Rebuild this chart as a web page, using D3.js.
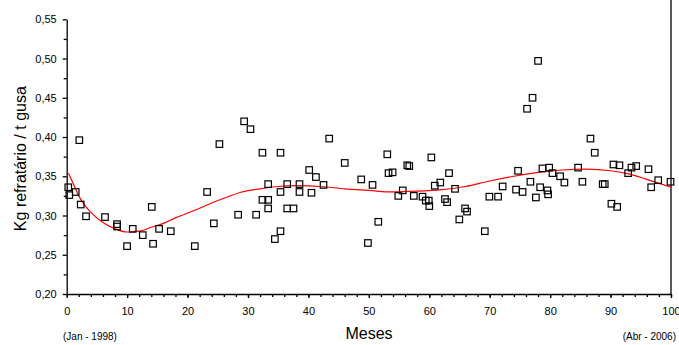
<!DOCTYPE html>
<html>
<head>
<meta charset="utf-8">
<script src="https://cdn.jsdelivr.net/npm/d3@7"></script>
<style>
  html, body { margin: 0; padding: 0; background: #fff; }
  svg { display: block; font-family: "Liberation Sans", Arial, sans-serif; }
</style>
</head>
<body>
<svg id="chart" width="679" height="345"></svg>
<script>
// Monthly refractory consumption (Jan 1998 = month 0)
const months = [
  0.26, 0.43, 1.49, 2.09, 2.32, 3.20, 6.34, 8.33, 8.33, 9.99,
  10.93, 12.59, 14.08, 14.29, 15.29, 17.22, 21.2, 23.24, 24.35, 25.27,
  28.37, 29.36, 30.41, 31.35, 32.39, 32.39, 33.34, 33.34, 33.34, 34.45,
  35.38, 35.38, 35.38, 36.49, 36.49, 37.53, 38.52, 38.52, 40.13, 40.51,
  41.24, 42.50, 43.44, 46.01, 48.74, 49.85, 50.61, 51.56, 53.05, 53.26,
  53.93, 54.87, 55.61, 56.36, 56.69, 57.44, 58.88, 59.42, 59.92, 60.0,
  60.34, 60.91, 61.82, 62.60, 62.95, 63.27, 64.26, 64.97, 65.92, 66.25,
  69.19, 69.94, 71.38, 72.14, 74.36, 74.69, 75.44, 76.18, 77.09, 78.0,
  76.73, 77.64, 78.35, 78.72, 79.55, 79.66, 79.84, 80.38, 81.65, 82.36,
  84.63, 85.34, 86.67, 87.38, 88.70, 89.04, 90.14, 91.09, 90.48, 91.47,
  92.91, 93.46, 94.24, 96.27, 96.72, 97.88, 99.92
];
const kgPerTon = [
  0.336, 0.326, 0.330, 0.396, 0.314, 0.299, 0.298, 0.289, 0.286, 0.261,
  0.283, 0.275, 0.311, 0.264, 0.283, 0.280, 0.261, 0.330, 0.290, 0.391,
  0.301, 0.420, 0.410, 0.301, 0.380, 0.320, 0.340, 0.320, 0.309, 0.270,
  0.280, 0.330, 0.380, 0.340, 0.309, 0.309, 0.340, 0.330, 0.358, 0.329,
  0.349, 0.339, 0.398, 0.367, 0.346, 0.265, 0.339, 0.292, 0.378, 0.354,
  0.355, 0.325, 0.332, 0.364, 0.363, 0.325, 0.324, 0.319, 0.319, 0.312,
  0.374, 0.338, 0.342, 0.321, 0.317, 0.354, 0.334, 0.295, 0.309, 0.305,
  0.280, 0.324, 0.324, 0.337, 0.333, 0.357, 0.330, 0.436, 0.450, 0.497,
  0.343, 0.323, 0.336, 0.360, 0.332, 0.327, 0.361, 0.354, 0.350, 0.342,
  0.361, 0.343, 0.398, 0.380, 0.340, 0.340, 0.315, 0.311, 0.365, 0.364,
  0.354, 0.361, 0.363, 0.359, 0.336, 0.345, 0.343
];

// Fitted trend curve
const trendMonths = [0.3, 1, 2, 3, 4, 6, 8, 10, 12, 14, 16, 18, 21, 24, 26, 29, 32, 35, 38, 42,
  46, 50, 54, 58, 62, 66, 70, 74, 78, 82, 86, 90, 93, 96, 100];
const trendValues = [0.354, 0.342, 0.325, 0.313, 0.304, 0.291, 0.283, 0.279, 0.280, 0.285,
  0.290, 0.297, 0.306, 0.316, 0.322, 0.330, 0.334, 0.337, 0.338, 0.337,
  0.334, 0.332, 0.330, 0.331, 0.333, 0.337, 0.344, 0.350, 0.355, 0.358,
  0.359, 0.357, 0.353, 0.346, 0.336];

const xTickValues = [0, 10, 20, 30, 40, 50, 60, 70, 80, 90, 100];
const xMinorTicks = d3.range(0, 101, 2);
const yTickValues = [0.20, 0.25, 0.30, 0.35, 0.40, 0.45, 0.50, 0.55];
const yMinorTicks = [0.225, 0.275, 0.325, 0.375, 0.425, 0.475, 0.525];

const svg = d3.select("#chart");
const plotLeft = 66.7, plotRight = 671, plotTop = 19.3, plotBottom = 294;

const x = d3.scaleLinear().domain([0, 100]).range([plotLeft, plotRight]);
const y = d3.scaleLinear().domain([0.20, 0.55]).range([plotBottom, plotTop]);

const ptBR = d3.formatLocale({ decimal: ",", thousands: ".", grouping: [3], currency: ["R$", ""] });
const fmt = ptBR.format(".2f");

// Minor ticks
svg.append("g")
  .attr("transform", `translate(${plotLeft},0)`)
  .call(d3.axisLeft(y).tickValues(yMinorTicks).tickSize(3).tickFormat(""))
  .call(g => g.select(".domain").remove());
svg.append("g")
  .attr("transform", `translate(0,${plotBottom})`)
  .call(d3.axisBottom(x).tickValues(xMinorTicks).tickSize(3).tickFormat(""))
  .call(g => g.select(".domain").remove());

// Major axes
const yAxis = svg.append("g")
  .attr("transform", `translate(${plotLeft},0)`)
  .call(d3.axisLeft(y).tickValues(yTickValues).tickSize(4).tickSizeOuter(0).tickPadding(6).tickFormat(fmt));
yAxis.selectAll("text").attr("font-size", 11).attr("fill", "#000").attr("font-family", "Liberation Sans, Arial, sans-serif");

const xAxis = svg.append("g")
  .attr("transform", `translate(0,${plotBottom})`)
  .call(d3.axisBottom(x).tickValues(xTickValues).tickSize(4).tickSizeOuter(0).tickPadding(9));
xAxis.selectAll("text").attr("font-size", 11).attr("fill", "#000").attr("font-family", "Liberation Sans, Arial, sans-serif");

svg.selectAll(".domain, .tick line").attr("stroke", "#000").attr("stroke-width", 1.3);

// Right frame edge
svg.append("line")
  .attr("x1", plotRight).attr("x2", plotRight)
  .attr("y1", 0).attr("y2", plotBottom)
  .attr("stroke", "#000").attr("stroke-width", 1.3);

// Trend curve
svg.append("path")
  .datum(trendMonths.map((m, i) => [m, trendValues[i]]))
  .attr("fill", "none")
  .attr("stroke", "#ff0000")
  .attr("stroke-width", 1.2)
  .attr("d", d3.line().x(d => x(d[0])).y(d => y(d[1])).curve(d3.curveMonotoneX));

// Observations as open squares
const s = 6.5;
svg.append("g").selectAll("rect")
  .data(months.map((m, i) => [m, kgPerTon[i]]))
  .join("rect")
  .attr("x", d => x(d[0]) - s / 2)
  .attr("y", d => y(d[1]) - s / 2)
  .attr("width", s).attr("height", s)
  .attr("fill", "none")
  .attr("stroke", "#000")
  .attr("stroke-width", 1.2);

// Titles
svg.append("text")
  .attr("transform", `translate(26,${(plotTop + plotBottom) / 2 + 2}) rotate(-90)`)
  .attr("text-anchor", "middle")
  .attr("font-size", 16)
  .text("Kg refratário / t gusa");

svg.append("text")
  .attr("x", 369).attr("y", 339)
  .attr("text-anchor", "middle")
  .attr("font-size", 16)
  .text("Meses");

svg.append("text")
  .attr("x", 90).attr("y", 340)
  .attr("text-anchor", "middle")
  .attr("font-size", 10)
  .text("(Jan - 1998)");

svg.append("text")
  .attr("x", 676).attr("y", 340)
  .attr("text-anchor", "end")
  .attr("font-size", 10)
  .text("(Abr - 2006)");
</script>
</body>
</html>
